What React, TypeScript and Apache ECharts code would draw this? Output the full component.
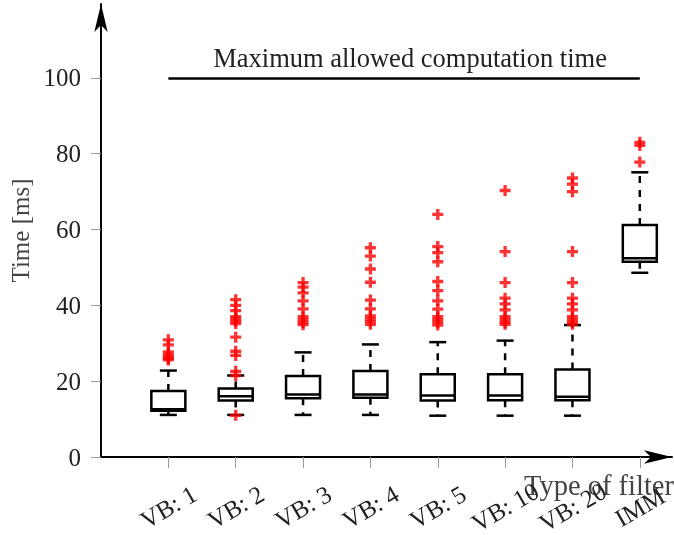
import React, { useEffect, useRef } from 'react';
import * as echarts from 'echarts';

const categories = ['VB: 1', 'VB: 2', 'VB: 3', 'VB: 4', 'VB: 5', 'VB: 10', 'VB: 20', 'IMM'];
const whiskerLow = [11.1, 11.1, 11.1, 11.1, 10.9, 10.9, 10.9, 48.6];
const quartile1 = [12.2, 14.9, 15.5, 15.6, 14.9, 15.0, 15.0, 51.5];
const medians = [12.6, 16.0, 16.5, 16.5, 16.2, 16.2, 15.9, 52.4];
const quartile3 = [17.4, 18.1, 21.4, 22.7, 21.8, 21.8, 23.1, 61.2];
const whiskerHigh = [22.8, 21.5, 27.6, 29.7, 30.3, 30.7, 34.8, 75.1];

const outliersVB1 = [30.9, 29.6, 27.7, 27.0, 26.4, 26.0, 25.6];
const outliersVB2 = [41.5, 40.0, 38.6, 37.0, 36.4, 35.8, 35.2, 31.6, 27.9, 26.8, 22.6, 21.5, 11.0];
const outliersVB3 = [46.0, 44.8, 43.3, 41.2, 39.1, 37.0, 36.2, 35.5, 34.9];
const outliersVB4 = [55.2, 53.0, 49.6, 46.1, 41.4, 39.1, 37.2, 36.4, 35.7, 35.0];
const outliersVB5 = [64.0, 55.5, 53.9, 51.5, 46.3, 43.9, 41.2, 39.0, 37.0, 36.2, 35.5, 34.8];
const outliersVB10 = [70.3, 54.2, 46.0, 41.9, 40.4, 38.8, 37.0, 36.2, 35.5, 35.0];
const outliersVB20 = [73.6, 72.0, 70.0, 54.2, 46.0, 41.9, 40.4, 38.8, 37.0, 36.2, 35.5, 35.0];
const outliersIMM = [83.0, 82.2, 77.8];
const outliers = [outliersVB1, outliersVB2, outliersVB3, outliersVB4, outliersVB5, outliersVB10, outliersVB20, outliersIMM];

const yTicks = [0, 20, 40, 60, 80, 100];
const limitValue = 100;
const limitLabel = 'Maximum allowed computation time';
const xName = 'Type of filter';
const yName = 'Time [ms]';

const FONT = "'Liberation Serif', 'Times New Roman', serif";
const PLUS = 'path://M3.5,0H6.5V3.5H10V6.5H6.5V10H3.5V6.5H0V3.5H3.5Z';

export default function App() {
  const ref = useRef<HTMLDivElement>(null);
  useEffect(() => {
    if (!ref.current) return;
    const chart = echarts.init(ref.current, undefined, { renderer: 'svg' });
    const positions = categories.map((_, i) => i + 1);
    const boxData = categories.map((_, i) => [
      i + 1,
      whiskerLow[i],
      quartile1[i],
      medians[i],
      quartile3[i],
      whiskerHigh[i],
    ]);
    const outlierData: number[][] = [];
    outliers.forEach((arr, i) => arr.forEach((v) => outlierData.push([i + 1, v])));

    const boxW = 34;
    const capW = 17;
    const lw = 2.5;

    chart.setOption({
      animation: false,
      grid: { left: 101, top: 4, right: 2, bottom: 78, outerBoundsMode: 'none' },
      xAxis: {
        type: 'value',
        min: 0,
        max: 8.478,
        splitLine: { show: false },
        axisLine: {
          show: true,
          symbol: ['none', 'arrow'],
          symbolSize: [10, 28],
          lineStyle: { color: '#000', width: 2 },
        },
        axisTick: {
          show: true,
          inside: false,
          length: 11,
          customValues: positions,
          lineStyle: { color: '#999', width: 1 },
        },
        axisLabel: {
          customValues: positions,
          rotate: 30,
          align: 'center',
          verticalAlign: 'middle',
          margin: 50,
          fontSize: 25,
          fontFamily: FONT,
          color: '#222',
          formatter: (v: number) => categories[Math.round(v) - 1] ?? '',
        },
        name: xName,
        nameLocation: 'end',
        nameGap: 2,
        nameMoveOverlap: false,
        nameTextStyle: {
          fontSize: 28.5,
          fontFamily: FONT,
          color: '#444',
          align: 'right',
          verticalAlign: 'top',
          padding: [14, 0, 0, 0],
        },
      },
      yAxis: {
        type: 'value',
        min: 0,
        max: 119.5,
        splitLine: { show: false },
        axisLine: {
          show: true,
          symbol: ['none', 'arrow'],
          symbolSize: [10, 28],
          lineStyle: { color: '#000', width: 2 },
        },
        axisTick: {
          show: true,
          inside: false,
          length: 10,
          customValues: yTicks,
          lineStyle: { color: '#999', width: 1 },
        },
        axisLabel: {
          customValues: yTicks,
          margin: 20,
          fontSize: 25,
          fontFamily: FONT,
          color: '#222',
        },
        name: yName,
        nameLocation: 'middle',
        nameGap: 68,
        nameMoveOverlap: false,
        nameTextStyle: {
          fontSize: 25,
          fontFamily: FONT,
          color: '#444',
        },
      },
      series: [
        {
          type: 'custom',
          clip: false,
          encode: { x: 0, y: [1, 2, 3, 4, 5] },
          data: boxData,
          z: 2,
          renderItem: (params: any, api: any) => {
            const x = api.value(0);
            const c = (v: number) => api.coord([x, v]);
            const [cx, yMin] = c(api.value(1));
            const yQ1 = c(api.value(2))[1];
            const yMed = c(api.value(3))[1];
            const yQ3 = c(api.value(4))[1];
            const yMax = c(api.value(5))[1];
            const solid = { stroke: '#000', lineWidth: lw, fill: 'none' };
            const dashed = { stroke: '#000', lineWidth: lw, lineDash: [7, 7], fill: 'none' };
            return {
              type: 'group',
              children: [
                { type: 'line', shape: { x1: cx, y1: yQ3, x2: cx, y2: yMax }, style: dashed },
                { type: 'line', shape: { x1: cx, y1: yQ1, x2: cx, y2: yMin }, style: dashed },
                { type: 'line', shape: { x1: cx - capW / 2, y1: yMax, x2: cx + capW / 2, y2: yMax }, style: solid },
                { type: 'line', shape: { x1: cx - capW / 2, y1: yMin, x2: cx + capW / 2, y2: yMin }, style: solid },
                {
                  type: 'rect',
                  shape: { x: cx - boxW / 2, y: yQ3, width: boxW, height: yQ1 - yQ3 },
                  style: { stroke: '#000', lineWidth: lw, fill: '#fff' },
                },
                { type: 'line', shape: { x1: cx - boxW / 2, y1: yMed, x2: cx + boxW / 2, y2: yMed }, style: solid },
              ],
            };
          },
        },
        {
          type: 'scatter',
          data: outlierData,
          symbol: PLUS,
          symbolSize: 11,
          itemStyle: { color: '#ff0000' },
          z: 3,
          silent: true,
          markLine: {
            silent: true,
            symbol: ['none', 'none'],
            lineStyle: { type: 'solid', color: '#000', width: 2.5 },
            label: {
              show: true,
              position: 'insideMiddleTop',
              formatter: limitLabel,
              distance: 6,
              fontSize: 26.5,
              fontFamily: FONT,
              color: '#222',
              padding: [0, 0, 0, 12],
            },
            data: [[{ coord: [1, limitValue] }, { coord: [categories.length, limitValue] }]],
          },
        },
      ],
    });
    return () => chart.dispose();
  }, []);
  return <div ref={ref} style={{ position: 'fixed', left: 0, top: 0, width: 674, height: 535 }} />;
}
